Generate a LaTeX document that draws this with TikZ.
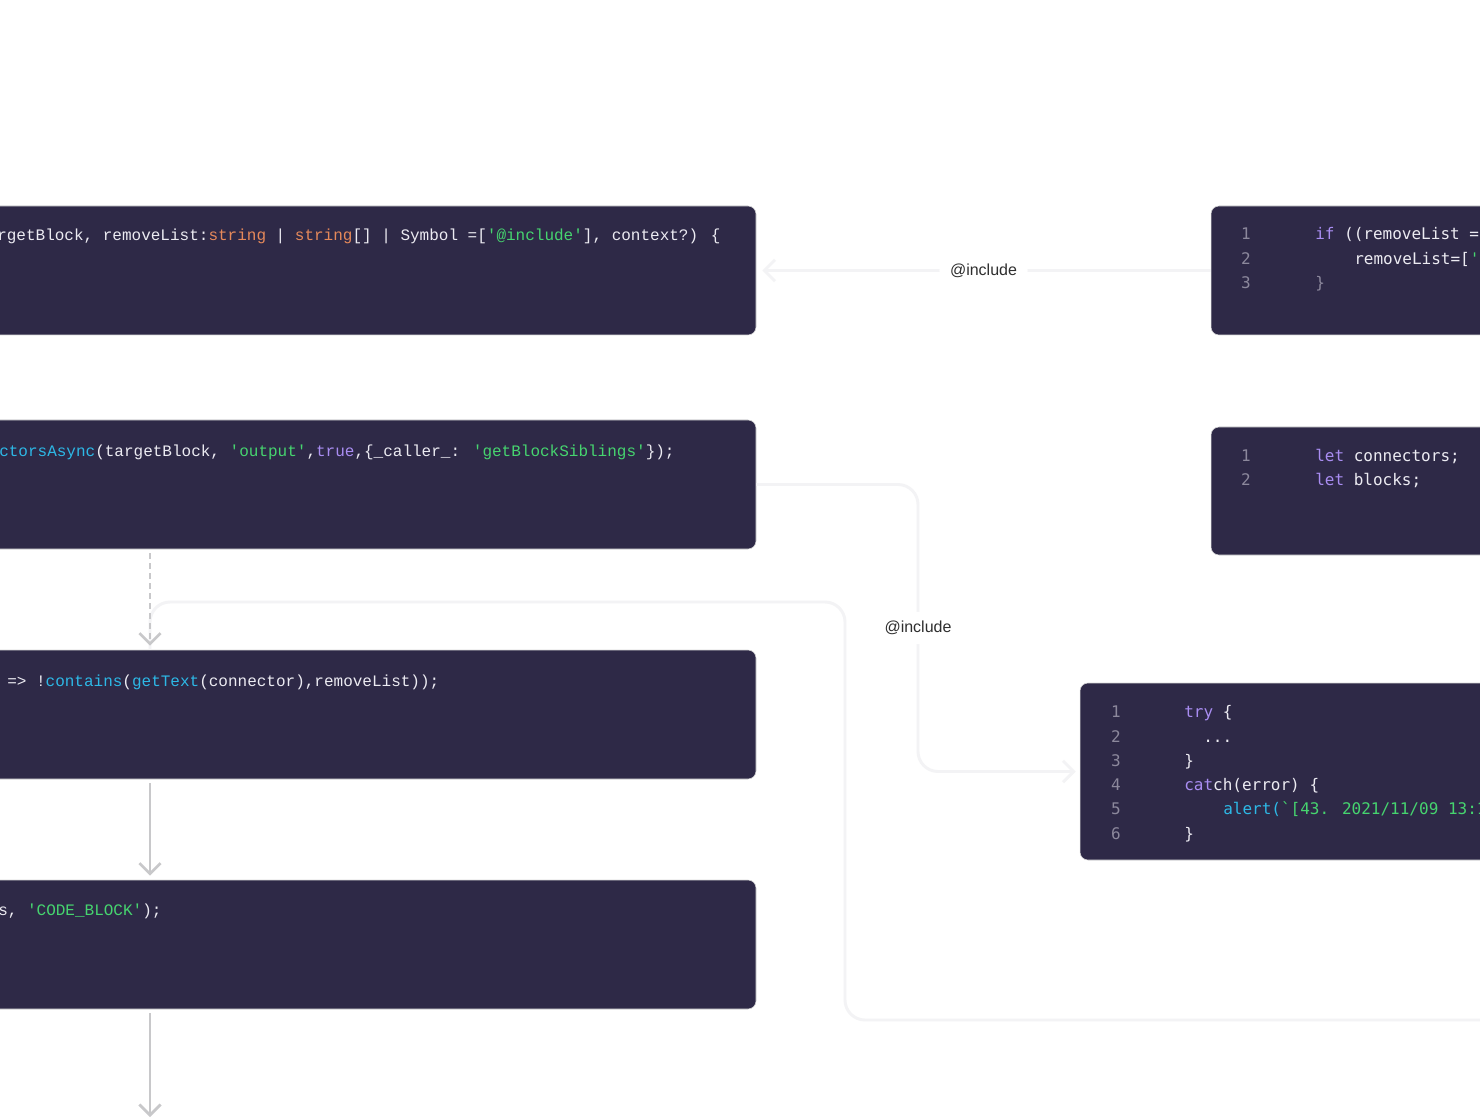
\documentclass[tikz,border=0pt]{standalone}
\usepackage{fontspec}
\setmainfont{Liberation Sans}
\newfontfamily\leftcode{Liberation Mono}[Ligatures=TeXOff]
\newfontfamily\rightcode{DejaVu Sans Mono}[Ligatures=TeXOff]
\usepackage{tikz}
\usetikzlibrary{arrows.meta,fit,calc}
\definecolor{panel}{HTML}{2E2947}
\definecolor{plain}{HTML}{ECEBF2}
\definecolor{kw}{HTML}{A98DF2}
\definecolor{strg}{HTML}{46D46F}
\definecolor{fn}{HTML}{2DB8E6}
\definecolor{typ}{HTML}{E6895A}
\definecolor{lineno}{HTML}{8C889C}
\definecolor{flow}{HTML}{C8C8CA}
\definecolor{faint}{HTML}{F3F3F5}
\definecolor{labelink}{HTML}{2F2F2F}

\begin{document}
\begin{tikzpicture}[x=0.75pt,y=-0.75pt,
  codebox/.style={fill=panel,draw=black!15,line width=0.4pt,rounded corners=6pt,inner sep=0pt},
  leftline/.style={anchor=base west,inner sep=0pt,text=plain,font=\leftcode\fontsize{12}{14}\selectfont},
  rightline/.style={anchor=base west,inner sep=0pt,text=plain,font=\rightcode\fontsize{12}{14}\selectfont},
  lineno/.style={anchor=base,inner sep=0pt,text=lineno,font=\rightcode\fontsize{12}{14}\selectfont},
  flowarrow/.style={draw=flow,line width=2pt,-{Straight Barb[length=8pt,width=16pt]},shorten >=3pt,shorten <=3pt},
  include/.style={draw=faint,line width=2.2pt,rounded corners=15pt},
  tag/.style={fill=white,text=labelink,font=\fontsize{12}{14}\selectfont,inner xsep=8pt,inner ysep=7pt}]
  \useasboundingbox (0,0) rectangle (1480,1119);
  \clip (0,0) rectangle (1480,1119);
  \fill[white] (0,0) rectangle (1480,1119);

  \node[codebox,fit={(-300,206) (756,335)}] (boxA) {};
  \node[codebox,fit={(-300,420) (756,549)}] (boxB) {};
  \node[codebox,fit={(-300,650) (756,779)}] (boxC) {};
  \node[codebox,fit={(-300,880) (756,1009)}] (boxD) {};
  \node[codebox,fit={(1211,206) (1800,335)}] (boxE) {};
  \node[codebox,fit={(1211,427) (1800,555)}] (boxF) {};
  \node[codebox,fit={(1080,683) (1800,860)}] (boxG) {};

  \node[leftline] (codeA) at (-3,241) {rgetBlock, removeList:\textcolor{typ}{string} | \textcolor{typ}{string}[] | Symbol =[\textcolor{strg}{'@include'}], context?) \{};
  \node[leftline] (codeB) at (-1,456) {\textcolor{fn}{ctorsAsync}(targetBlock, \textcolor{strg}{'output'},\textcolor{kw}{true},\{\_caller\_: \textcolor{strg}{'getBlockSiblings'}\});};
  \node[leftline] (codeC) at (7,686) {=> !\textcolor{fn}{contains}(\textcolor{fn}{getText}(connector),removeList));};
  \node[leftline] (codeD) at (-2,915) {s, \textcolor{strg}{'CODE\_BLOCK'});};

  \node[lineno] (numE1) at (1246,240) {1};
  \node[lineno] (numE2) at (1246,265) {2};
  \node[lineno] (numE3) at (1246,289) {3};
  \node[rightline] (codeE1) at (1315,240) {\textcolor{kw}{if} ((removeList =};
  \node[rightline] (codeE2) at (1354,265) {removeList=[\textcolor{strg}{'}};
  \node[rightline,text=lineno] (codeE3) at (1315,289) {\}};

  \node[lineno] (numF1) at (1246,461) {1};
  \node[lineno] (numF2) at (1246,485) {2};
  \node[rightline] (codeF1) at (1315,461) {\textcolor{kw}{let} connectors;};
  \node[rightline] (codeF2) at (1315,485) {\textcolor{kw}{let} blocks;};

  \node[lineno] (numG1) at (1116,717) {1};
  \node[lineno] (numG2) at (1116,742) {2};
  \node[lineno] (numG3) at (1116,766) {3};
  \node[lineno] (numG4) at (1116,790) {4};
  \node[lineno] (numG5) at (1116,814) {5};
  \node[lineno] (numG6) at (1116,839) {6};
  \node[rightline] (codeG1) at (1184,717) {\textcolor{kw}{try} \{};
  \node[rightline] (codeG2) at (1203,742) {...};
  \node[rightline] (codeG3) at (1184,766) {\}};
  \node[rightline] (codeG4) at (1184,790) {\textcolor{kw}{cat}ch(error) \{};
  \node[rightline] (codeG5) at (1223,814) {\textcolor{fn}{alert(}\textcolor{strg}{`[43. 2021/11/09 13:1}};
  \node[rightline] (codeG6) at (1184,839) {\}};

  \coordinate (col) at (150,0);
  \coordinate (bendB) at (918,0);
  \coordinate (loopX) at (845,602);
  \coordinate (loopR) at (1500,1020);
  \coordinate (exit) at (150,1117);

  \draw[include] (loopR) -- (loopR -| loopX) -- (loopX) -- (loopX -| col) -- (boxC.north -| col);
  \draw[include,-{Straight Barb[length=8pt,width=16pt]},shorten >=4.5pt] (boxE.west) -- node[tag] (incA) {@include} (boxA.east);
  \draw[include,-{Straight Barb[length=8pt,width=16pt]},shorten >=3pt] (boxB.east) -- (boxB.east -| bendB) -- node[tag] (incB) {@include} (boxG.west -| bendB) -- (boxG.west);

  \draw[flowarrow,dash pattern=on 4.5pt off 3pt] (boxB.south -| col) -- (boxC.north -| col);
  \draw[flowarrow] (boxC.south -| col) -- (boxD.north -| col);
  \draw[flowarrow,shorten >=0pt] (boxD.south -| col) -- (exit);
\end{tikzpicture}
\end{document}
